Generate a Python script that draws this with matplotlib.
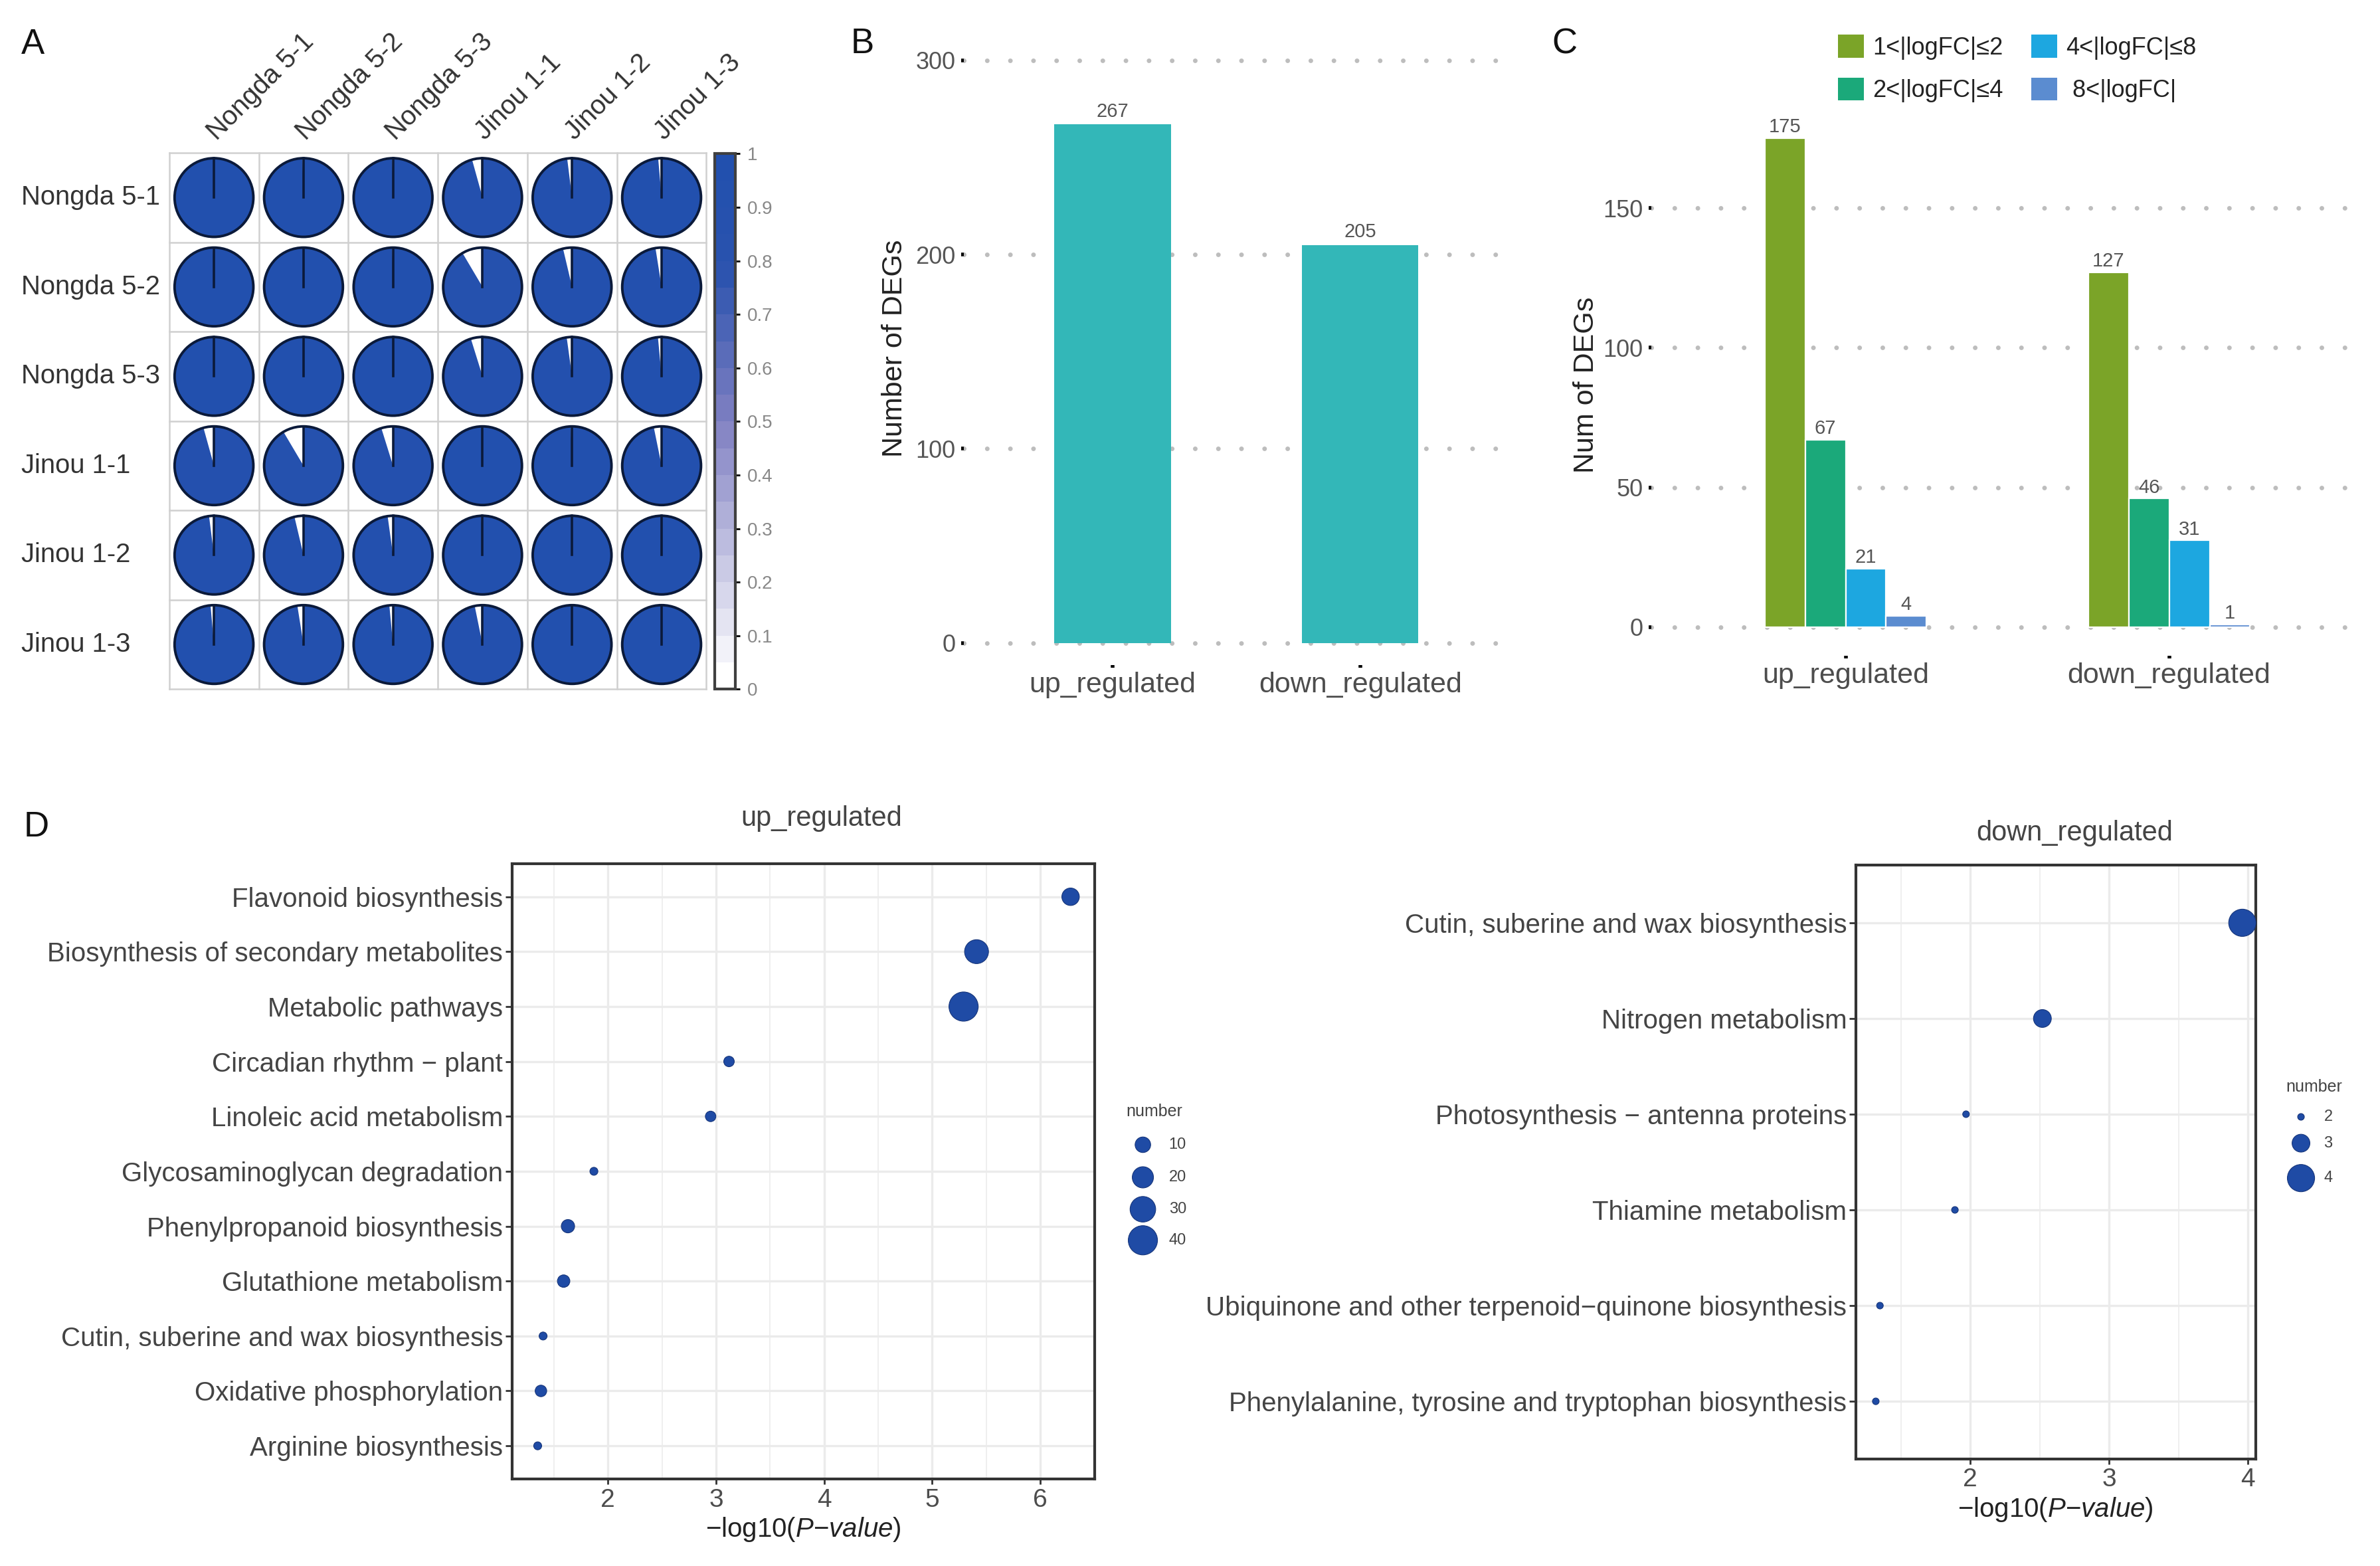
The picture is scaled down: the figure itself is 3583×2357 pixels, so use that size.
import numpy as np
import matplotlib
matplotlib.use("Agg")
import matplotlib.pyplot as plt
import matplotlib.transforms as mtransforms
from matplotlib.patches import Wedge, Circle, Patch
from matplotlib.colors import LinearSegmentedColormap, Normalize
from matplotlib.cm import ScalarMappable
from matplotlib.ticker import MultipleLocator

plt.rcParams["font.family"] = ["Liberation Sans", "DejaVu Sans"]
plt.rcParams["mathtext.fontset"] = "custom"
plt.rcParams["mathtext.rm"] = "Liberation Sans"
plt.rcParams["mathtext.it"] = "Liberation Sans:italic"

# ---- panel A: sample correlation
samples = ["Nongda 5-1", "Nongda 5-2", "Nongda 5-3", "Jinou 1-1", "Jinou 1-2", "Jinou 1-3"]
corr = np.array([
    [1.000, 0.996, 0.997, 0.957, 0.980, 0.986],
    [0.996, 1.000, 0.997, 0.915, 0.963, 0.975],
    [0.997, 0.997, 1.000, 0.952, 0.978, 0.985],
    [0.957, 0.915, 0.952, 1.000, 0.995, 0.968],
    [0.980, 0.963, 0.978, 0.995, 1.000, 0.997],
    [0.986, 0.975, 0.985, 0.968, 0.997, 1.000],
])
cbar_ticks = [0, 0.1, 0.2, 0.3, 0.4, 0.5, 0.6, 0.7, 0.8, 0.9, 1]
cbar_labels = ["0", "0.1", "0.2", "0.3", "0.4", "0.5", "0.6", "0.7", "0.8", "0.9", "1"]

# ---- panel B: number of DEGs
deg_groups = ["up_regulated", "down_regulated"]
deg_totals = [267, 205]
b_ticks = [0, 100, 200, 300]

# ---- panel C: DEGs by fold change
fc_bins = ["1<|logFC|\u22642", "2<|logFC|\u22644", "4<|logFC|\u22648", " 8<|logFC|"]
fc_up = [175, 67, 21, 4]
fc_down = [127, 46, 31, 1]
c_ticks = [0, 50, 100, 150]
fc_colors = ["#7BA428", "#1BA97A", "#1DA7E0", "#5B8CD0"]

# ---- panel D: KEGG enrichment
up_terms = ["Flavonoid biosynthesis", "Biosynthesis of secondary metabolites",
            "Metabolic pathways", "Circadian rhythm \u2212 plant",
            "Linoleic acid metabolism", "Glycosaminoglycan degradation",
            "Phenylpropanoid biosynthesis", "Glutathione metabolism",
            "Cutin, suberine and wax biosynthesis", "Oxidative phosphorylation",
            "Arginine biosynthesis"]
up_logp = [6.28, 5.41, 5.29, 3.12, 2.95, 1.87, 1.63, 1.59, 1.40, 1.38, 1.35]
up_count = [13, 26, 40, 4, 4, 2, 7, 6, 2, 5, 2]
up_legend = [10, 20, 30, 40]

down_terms = ["Cutin, suberine and wax biosynthesis", "Nitrogen metabolism",
              "Photosynthesis \u2212 antenna proteins", "Thiamine metabolism",
              "Ubiquinone and other terpenoid\u2212quinone biosynthesis",
              "Phenylalanine, tyrosine and tryptophan biosynthesis"]
down_logp = [3.96, 2.52, 1.97, 1.89, 1.35, 1.32]
down_count = [4, 3, 2, 2, 2, 2]
down_legend = [2, 3, 4]

DPI = 200
fig = plt.figure(figsize=(3583 / DPI, 2357 / DPI), dpi=DPI)

pie_cmap = LinearSegmentedColormap.from_list(
    "pie", [(0, "#FFFFFF"), (0.5, "#8080C2"), (0.8, "#2A52AE"), (1, "#2250AE")])

# ================= A
axA = fig.add_axes([0.0711, 0.5599, 0.2257, 0.3425])
n = len(samples)
axA.set_xlim(0, n)
axA.set_ylim(0, n)
axA.axis("off")
for k in range(n + 1):
    axA.plot([k, k], [0, n], color="#D0D0D0", lw=0.9, zorder=1, clip_on=False)
    axA.plot([0, n], [k, k], color="#D0D0D0", lw=0.9, zorder=1, clip_on=False)
rad = 0.44
for i in range(n):
    for j in range(n):
        cx, cy = j + 0.5, n - i - 0.5
        r = corr[i, j]
        axA.add_patch(Wedge((cx, cy), rad, 90 - 360 * r, 90,
                            facecolor=pie_cmap(r), edgecolor="none", zorder=2))
        axA.add_patch(Circle((cx, cy), rad, facecolor="none",
                             edgecolor="#0B1A3A", lw=1.4, zorder=3))
        axA.plot([cx, cx], [cy, cy + rad], color="#0B1A3A", lw=1.3, zorder=3)

rowtrans = mtransforms.blended_transform_factory(fig.transFigure, axA.transData)
for i, s in enumerate(samples):
    axA.text(0.0089, n - i - 0.5, s, transform=rowtrans, ha="left", va="center",
             fontsize=14.4, color="#333333")
    axA.text(i + 0.57, n + 0.09, s, rotation=45, rotation_mode="anchor",
             ha="left", va="bottom", fontsize=14.4, color="#333333")

cax = fig.add_axes([0.3004, 0.5599, 0.0086, 0.3419])
cb = fig.colorbar(ScalarMappable(norm=Normalize(0, 1), cmap=pie_cmap.resampled(20)),
                  cax=cax, ticks=cbar_ticks)
cb.set_ticklabels(cbar_labels)
cb.outline.set_edgecolor("#404040")
cb.outline.set_linewidth(1.5)
cax.tick_params(length=2.5, width=1, color="black", labelsize=10,
                labelcolor="#888888", pad=4)

# ================= B
axB = fig.add_axes([0.405, 0.5754, 0.229, 0.4046])
xb = np.arange(len(deg_groups))
axB.bar(xb, deg_totals, width=0.47, color="#33B7B8", zorder=2)
for xi, v in zip(xb, deg_totals):
    axB.annotate(str(v), (xi, v), xytext=(0, 2), textcoords="offset points",
                 ha="center", va="bottom", fontsize=10.5, color="#555555")
axB.set_xlim(-0.6, 1.6)
axB.set_ylim(-11.3, 315)
axB.set_yticks(b_ticks)
axB.set_xticks(xb, deg_groups)
axB.set_ylabel("Number of DEGs", fontsize=15.5, color="#222222", labelpad=4)

# ================= C
axC = fig.add_axes([0.6939, 0.5812, 0.2991, 0.3461])
xc = np.arange(len(deg_groups))
slot = 0.125
for k, (lab, col) in enumerate(zip(fc_bins, fc_colors)):
    vals = [fc_up[k], fc_down[k]]
    pos = xc + (k - 1.5) * slot
    axC.bar(pos, vals, width=slot, color=col, edgecolor="white", lw=0.8, zorder=2)
    for p, v in zip(pos, vals):
        axC.annotate(str(v), (p, v), xytext=(0, 1), textcoords="offset points",
                     ha="center", va="bottom", fontsize=10.5, color="#555555")
axC.set_xlim(-0.6, 1.6)
axC.set_ylim(-10.3, 183.75)
axC.set_yticks(c_ticks)
axC.set_xticks(xc, deg_groups)
axC.set_ylabel("Num of DEGs", fontsize=15.5, color="#222222", labelpad=1.7)

for ax in (axB, axC):
    for sp in ax.spines.values():
        sp.set_visible(False)
    ax.yaxis.grid(True, color="#BDBDBD", lw=2.5, linestyle=(0, (0.01, 5)),
                  dash_capstyle="round")
    ax.set_axisbelow(True)
    ax.tick_params(axis="y", length=1.6, width=2, color="black", pad=3,
                   labelsize=13, labelcolor="#555555")
    ax.tick_params(axis="x", length=1.6, width=2, color="black", pad=2,
                   labelsize=15.5, labelcolor="#4D4D4D")

handles = [Patch(facecolor=c, edgecolor="none") for c in fc_colors]
fig.legend(handles, fc_bins, loc="upper left", bbox_to_anchor=(0.7723, 0.9778),
           ncol=2, frameon=False, fontsize=13, handlelength=1.08, handleheight=1.08,
           handletextpad=0.35, columnspacing=1.2, labelspacing=0.75,
           borderpad=0, borderaxespad=0, labelcolor="#222222")


# ================= D
def dot_area(vals, vmin, vmax, dmin, dmax):
    vals = np.asarray(vals, float)
    frac = (np.sqrt(vals) - np.sqrt(vmin)) / (np.sqrt(vmax) - np.sqrt(vmin))
    d_px = dmin + (dmax - dmin) * frac
    return (d_px * 72.0 / DPI) ** 2


dot_color = "#1F4BA5"
dot_edge = "#16357A"


def enrich_panel(rect, terms, logp, counts, xlim, xticks, size_args):
    ax = fig.add_axes(rect)
    m = len(terms)
    ypos = np.arange(m, 0, -1)
    ax.scatter(logp, ypos, s=dot_area(counts, *size_args), color=dot_color,
               edgecolors=dot_edge, linewidths=0.4, zorder=3, clip_on=False)
    ax.set_xlim(*xlim)
    ax.set_ylim(0.4, m + 0.6)
    ax.set_xticks(xticks)
    ax.xaxis.set_minor_locator(MultipleLocator(0.5))
    ax.set_yticks(ypos, terms)
    ax.grid(which="major", color="#EBEBEB", lw=1.2)
    ax.grid(which="minor", axis="x", color="#EFEFEF", lw=0.7)
    ax.set_axisbelow(True)
    for sp in ax.spines.values():
        sp.set_color("#333333")
        sp.set_linewidth(1.5)
    ax.tick_params(axis="y", length=3.5, width=1, color="#333333", pad=1.5,
                   labelsize=14.5, labelcolor="#444444")
    ax.tick_params(axis="x", which="major", length=3, width=1, color="#333333",
                   pad=2, labelsize=14, labelcolor="#4D4D4D")
    ax.tick_params(axis="x", which="minor", length=0)
    ax.set_xlabel("\u2212log10($\\mathit{P}$\u2212$\\mathit{value}$)", fontsize=14.5,
                  color="#222222", labelpad=2)
    return ax


up_size = (2, 40, 12, 44)
down_size = (2, 4, 10, 41)
axD1 = enrich_panel([0.2152, 0.0557, 0.2448, 0.3927], up_terms, up_logp, up_count,
                    (1.114, 6.504), [2, 3, 4, 5, 6], up_size)
axD2 = enrich_panel([0.7798, 0.0685, 0.1679, 0.3789], down_terms, down_logp, down_count,
                    (1.177, 4.055), [2, 3, 4], down_size)
fig.text(0.345, 0.4775, "up_regulated", ha="center", va="center", fontsize=15, color="#444444")
fig.text(0.8718, 0.4678, "down_regulated", ha="center", va="center", fontsize=15, color="#444444")

# size legends drawn on a transparent overlay
ov = fig.add_axes([0, 0, 1, 1], facecolor="none")
ov.set_xlim(0, 1)
ov.set_ylim(0, 1)
ov.axis("off")


def size_legend(x0, ytitle, xdot, xlab, ys, vals, size_args):
    ov.text(x0, ytitle, "number", ha="left", va="center", fontsize=9, color="#444444")
    ov.scatter([xdot] * len(vals), ys, s=dot_area(vals, *size_args), color=dot_color,
               edgecolors=dot_edge, linewidths=0.4)
    for y, v in zip(ys, vals):
        ov.text(xlab, y, str(v), ha="left", va="center", fontsize=8.5, color="#444444")


size_legend(0.4732, 0.2904, 0.4802, 0.4911, [0.2690, 0.2482, 0.2278, 0.2080], up_legend, up_size)
size_legend(0.9605, 0.3059, 0.9668, 0.9764, [0.2868, 0.2700, 0.2477], down_legend, down_size)

# panel letters
for lab, (x, y) in zip("ABCD", [(0.0139, 0.9717), (0.3622, 0.9719),
                                (0.6575, 0.9719), (0.0152, 0.4716)]):
    fig.text(x, y, lab, ha="center", va="center", fontsize=19, color="#111111")

fig.savefig("out.png", dpi=DPI)
